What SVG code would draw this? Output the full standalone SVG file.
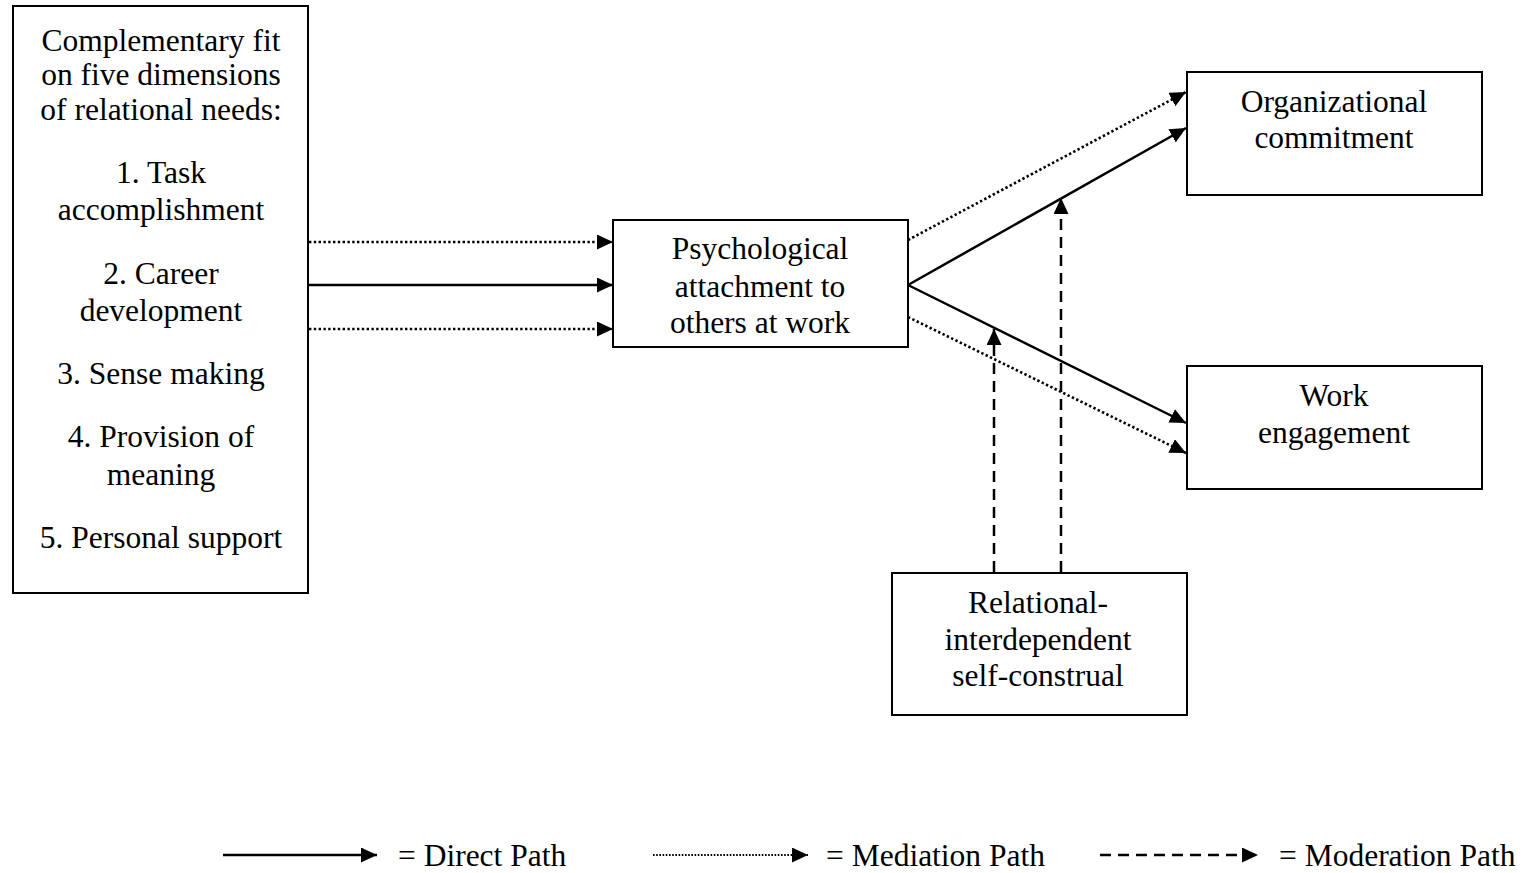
<svg xmlns="http://www.w3.org/2000/svg" width="1524" height="873" viewBox="0 0 1524 873">
<defs>
<marker id="ah" markerUnits="userSpaceOnUse" markerWidth="17" markerHeight="15" refX="16" refY="7.5" orient="auto">
<path d="M0,0 L16,7.5 L0,15 z" fill="#000"/>
</marker>
<style>
.box{fill:#fff;stroke:#000;stroke-width:2}
text{font-family:"Liberation Serif","Times New Roman",serif;font-size:31.5px;fill:#000}
.c{text-anchor:middle}
.solid{stroke:#000;stroke-width:2.5;fill:none}
.dot{stroke:#000;stroke-width:2.6;fill:none;stroke-dasharray:2.4 2.4}
.dash{stroke:#000;stroke-width:2.5;fill:none;stroke-dasharray:11 7}
.ldot{stroke:#000;stroke-width:1.8;fill:none;stroke-dasharray:1.6 1.6}
</style>
</defs>
<rect width="1524" height="873" fill="#fff"/>
<g id="connectors">
<line class="dot" x1="309" y1="242" x2="613" y2="242" marker-end="url(#ah)"/>
<line class="solid" x1="309" y1="285" x2="613" y2="285" marker-end="url(#ah)"/>
<line class="dot" x1="309" y1="329" x2="613" y2="329" marker-end="url(#ah)"/>
<line class="dot" x1="908" y1="240" x2="1186" y2="92" marker-end="url(#ah)"/>
<line class="solid" x1="908" y1="285" x2="1186" y2="128" marker-end="url(#ah)"/>
<line class="solid" x1="908" y1="285" x2="1186" y2="423" marker-end="url(#ah)"/>
<line class="dot" x1="908" y1="317" x2="1186" y2="453" marker-end="url(#ah)"/>
<line class="dash" x1="994" y1="572" x2="994" y2="329" marker-end="url(#ah)"/>
<line class="dash" x1="1061" y1="572" x2="1061" y2="198" marker-end="url(#ah)"/>
</g>
<g id="node-fit">
<rect class="box" x="13" y="6" width="295" height="587"/>
<text class="c" x="161" y="51">Complementary fit</text>
<text class="c" x="161" y="85">on five dimensions</text>
<text class="c" x="161" y="120">of relational needs:</text>
<text class="c" x="161" y="183">1. Task</text>
<text class="c" x="161" y="220">accomplishment</text>
<text class="c" x="161" y="284">2. Career</text>
<text class="c" x="161" y="321">development</text>
<text class="c" x="161" y="384">3. Sense making</text>
<text class="c" x="161" y="447">4. Provision of</text>
<text class="c" x="161" y="485">meaning</text>
<text class="c" x="161" y="548">5. Personal support</text>
</g>
<g id="node-attachment">
<rect class="box" x="613" y="220" width="295" height="127"/>
<text class="c" x="760" y="259">Psychological</text>
<text class="c" x="760" y="297">attachment to</text>
<text class="c" x="760" y="333">others at work</text>
</g>
<g id="node-commitment">
<rect class="box" x="1187" y="72" width="295" height="123"/>
<text class="c" x="1334" y="112">Organizational</text>
<text class="c" x="1334" y="148">commitment</text>
</g>
<g id="node-engagement">
<rect class="box" x="1187" y="366" width="295" height="123"/>
<text class="c" x="1334" y="406">Work</text>
<text class="c" x="1334" y="443">engagement</text>
</g>
<g id="node-construal">
<rect class="box" x="892" y="573" width="295" height="142"/>
<text class="c" x="1038" y="613">Relational-</text>
<text class="c" x="1038" y="650">interdependent</text>
<text class="c" x="1038" y="686">self-construal</text>
</g>
<g id="legend">
<line class="solid" x1="223" y1="855" x2="377" y2="855" marker-end="url(#ah)"/>
<text x="398" y="866">= Direct Path</text>
<line class="ldot" x1="653" y1="855" x2="808" y2="855" marker-end="url(#ah)"/>
<text x="826" y="866">= Mediation Path</text>
<line class="dash" x1="1100" y1="855" x2="1258" y2="855" marker-end="url(#ah)"/>
<text x="1279" y="866">= Moderation Path</text>
</g>
</svg>
